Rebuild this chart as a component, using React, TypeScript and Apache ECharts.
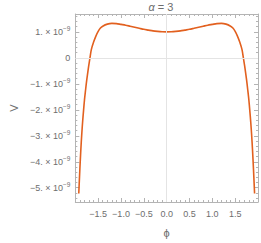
import React, { useEffect, useRef } from "react";
import * as echarts from "echarts";

const phiAbs = [0, 0.1, 0.2, 0.3, 0.4, 0.5, 0.6, 0.7, 0.8, 0.9, 1.0, 1.1, 1.2, 1.3, 1.4, 1.45, 1.5, 1.55, 1.6, 1.65, 1.68, 1.71, 1.75, 1.78, 1.8, 1.82, 1.84, 1.86, 1.88, 1.9, 1.925];
const vAbs = [1.0, 1.005, 1.02, 1.04, 1.07, 1.1, 1.14, 1.18, 1.22, 1.26, 1.29, 1.32, 1.33, 1.3, 1.22, 1.15, 1.02, 0.84, 0.61, 0.32, 0.0, -0.34, -0.85, -1.3, -1.62, -2.02, -2.45, -2.95, -3.55, -4.25, -5.22];
const SCALE = 1e-9;
const yMajor = [-5, -4, -3, -2, -1, 0, 1];
const yMinor: number[] = [];
for (let i = -27; i <= 8; i++) if (i % 5 !== 0) yMinor.push((i / 5) * SCALE);
const X_MIN = -2.0;
const X_MAX = 2.0;
const Y_MIN = -5.55e-9;
const Y_MAX = 1.69e-9;
const TITLE_SYMBOL = "α";
const TITLE_REST = " = 3";

const GRAY = "#b4b4b4";
const LABEL = "#6e6e6e";
const FONT = "Liberation Sans";

function buildData(): number[][] {
  const pts: number[][] = [];
  for (let i = phiAbs.length - 1; i > 0; i--) pts.push([-phiAbs[i], vAbs[i] * SCALE]);
  for (let i = 0; i < phiAbs.length; i++) pts.push([phiAbs[i], vAbs[i] * SCALE]);
  return pts;
}

function fmtX(v: number): string {
  if (Math.abs(v) > 1.9) return "";
  const s = Math.abs(v).toFixed(1);
  return v < -1e-9 ? "\u2212" + s : s;
}

function fmtY(v: number): string {
  const n = Math.round(v / SCALE);
  if (n === 0) return "0";
  const m = n < 0 ? "\u2212" + Math.abs(n) : String(n);
  return m + ". \u00d7 10{sup|\u22129}";
}

export default function App() {
  const ref = useRef<HTMLDivElement>(null);
  useEffect(() => {
    if (!ref.current) return;
    const chart = echarts.init(ref.current, undefined, { renderer: "svg" });
    const grid = { left: 62, right: 2, top: 14, bottom: 32 };
    const tickMaj = { show: true, inside: true, length: 4, lineStyle: { color: GRAY, width: 1 } };
    const tickMin = { show: true, inside: true, length: 2, lineStyle: { color: GRAY, width: 1 } };
    const baseX = {
      type: "value",
      min: X_MIN,
      max: X_MAX,
      interval: 0.5,
      axisLine: { show: true, onZero: false, lineStyle: { color: GRAY, width: 1 } },
      axisTick: tickMaj,
      minorTick: { show: true, splitNumber: 5, length: 2, lineStyle: { color: GRAY, width: 1 } },
      splitLine: { show: false },
      minorSplitLine: { show: false },
    };
    const baseY = (pos: string, values: number[], tick: any, withLine: boolean) => ({
      type: "value",
      position: pos,
      min: Y_MIN,
      max: Y_MAX,
      axisLine: { show: withLine, onZero: false, lineStyle: { color: GRAY, width: 1 } },
      axisTick: { ...tick, customValues: values },
      axisLabel: { show: false },
      splitLine: { show: false },
    });
    const majorVals = yMajor.map((v) => v * SCALE);
    chart.setOption({
      animation: false,
      title: {
        text: "{a|" + TITLE_SYMBOL + "}{b|" + TITLE_REST + "}",
        left: 161,
        top: 1,
        padding: 0,
        textAlign: "center",
        textStyle: {
          fontFamily: FONT,
          fontSize: 11,
          fontWeight: "normal",
          color: LABEL,
          rich: {
            a: { fontFamily: FONT, fontSize: 11, fontStyle: "italic", color: LABEL },
            b: { fontFamily: FONT, fontSize: 11, color: LABEL },
          },
        },
      },
      grid,
      xAxis: [
        {
          ...baseX,
          position: "bottom",
          name: "\u03d5",
          nameLocation: "middle",
          nameGap: 25,
          nameTextStyle: { fontFamily: FONT, fontSize: 11, color: LABEL },
          axisLabel: { show: true, formatter: fmtX, margin: 7, fontFamily: FONT, fontSize: 9, color: LABEL },
        },
        { ...baseX, position: "top", axisLabel: { show: false } },
      ],
      yAxis: [
        {
          ...baseY("left", majorVals, tickMaj, true),
          name: "V",
          nameLocation: "middle",
          nameGap: 51,
          nameTextStyle: { fontFamily: FONT, fontSize: 11, color: LABEL },
          axisLabel: {
            show: true,
            customValues: majorVals,
            formatter: fmtY,
            margin: 5,
            fontFamily: FONT,
            fontSize: 9,
            color: LABEL,
            rich: {
              sup: { fontSize: 6.5, verticalAlign: "top", padding: [0, 0, 6, 0], color: LABEL, fontFamily: FONT },
            },
          },
        },
        baseY("left", yMinor, tickMin, false),
        baseY("right", majorVals, tickMaj, true),
        baseY("right", yMinor, tickMin, false),
      ],
      series: [
        {
          type: "line",
          data: buildData(),
          showSymbol: false,
          smooth: 0.3,
          lineStyle: { color: "#e2601f", width: 1.6 },
          markLine: {
            silent: true,
            symbol: "none",
            label: { show: false },
            lineStyle: { color: "#e4e4e4", width: 1, type: "solid" },
            data: [{ xAxis: 0 }, { yAxis: 0 }],
          },
          z: 3,
        },
      ],
    });
    return () => chart.dispose();
  }, []);
  return <div ref={ref} style={{ position: "absolute", left: 0, top: 0, width: 261, height: 243 }} />;
}
